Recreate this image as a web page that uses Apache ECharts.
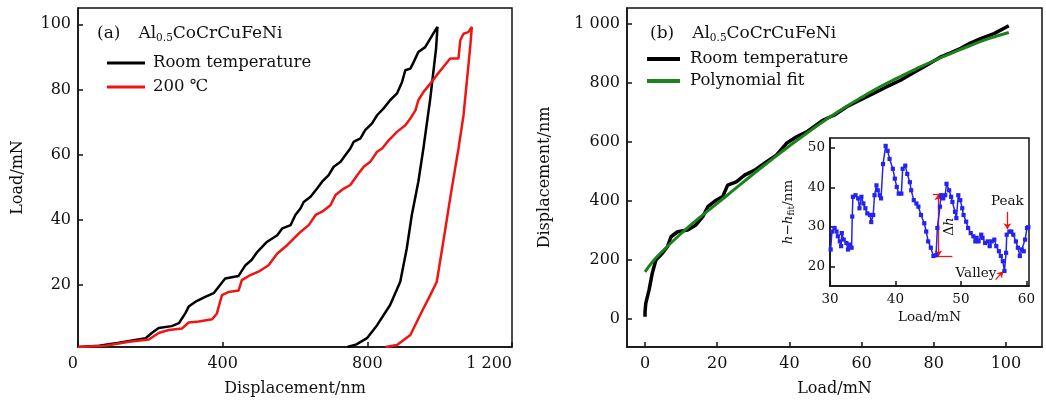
<!DOCTYPE html>
<html><head><meta charset="utf-8">
<script src="https://cdn.jsdelivr.net/npm/echarts@6/dist/echarts.min.js"></script>
<style>html,body{margin:0;padding:0;background:#fff}#c{width:1046px;height:402px}</style>
</head><body><div id="c"></div><script>
// ---- Panel (a): load–displacement curves (loading then unloading) ----
const rtDispA = [0, 58, 113, 187, 204, 223, 259, 279, 297, 306, 325, 352, 375, 389, 407, 444, 463, 480, 496, 523,
  551, 565, 588, 601, 615, 624, 643, 661, 675, 693, 707, 726, 739, 753, 762, 781, 794, 813, 827, 845,
  863, 882, 896, 905, 919, 928, 941, 960, 974, 988, 994,
  990, 974, 955, 941, 923, 909, 891, 863, 827, 799, 770, 745];
const rtLoadA = [1, 1.4, 2.3, 3.7, 5.3, 6.8, 7.4, 8.3, 11.4, 13.4, 14.9, 16.4, 17.5, 19.5, 22, 22.8, 26.1, 27.7, 30.2, 33.3,
  35.3, 37.4, 38.4, 41.5, 43.5, 45.5, 47.1, 49.6, 51.7, 53.7, 56.3, 57.8, 59.8, 61.9, 63.9, 65, 67.5, 69.6, 72.1, 74.2,
  76.7, 78.8, 82.3, 85.9, 86.4, 88.4, 91.5, 93, 95.6, 98.2, 99.2,
  92.5, 77.2, 61.9, 51.7, 41.5, 31.2, 21, 13.9, 7.7, 3.7, 1.8, 1];
const hotDispA = [0, 76, 141, 196, 223, 251, 288, 306, 334, 371, 384, 398, 417, 444, 453, 472, 499, 527, 551, 579,
  597, 615, 638, 657, 675, 698, 712, 735, 753, 772, 790, 808, 827, 841, 859, 882, 905, 919, 933, 941,
  955, 974, 992, 1010, 1029, 1052, 1057, 1066, 1079, 1089,
  1084, 1066, 1052, 1029, 1010, 992, 974, 946, 919, 882, 850];
const hotLoadA = [1, 1.4, 2.6, 3.3, 5.3, 6.2, 6.7, 8.5, 8.8, 9.5, 11.3, 16.9, 17.9, 18.3, 21.5, 22.8, 24.1, 26.1, 29.7, 32.3,
  34.3, 36.3, 38.4, 41.5, 42.5, 44.5, 47.6, 49.6, 50.7, 53.7, 56.3, 57.8, 60.9, 61.9, 64.4, 67, 69, 71.1, 73.6, 76.7,
  79.2, 81.8, 84.4, 86.9, 89.5, 89.5, 95.1, 97.1, 97.6, 99.2,
  92.5, 72.1, 61.9, 46.6, 33.3, 21, 16.9, 10.8, 4.7, 1.6, 1];
const ticksA_y = [20, 40, 60, 80, 100];

// ---- Panel (b): displacement vs load with polynomial fit ----
const loadB = [0, 0, 0.2, 1.1, 2.0, 3.0, 4.8, 6.2, 7.2, 9.0, 11.8, 14.1, 16.0, 17.4, 19.7, 21.5, 22.9, 25.3, 27.6, 30.4, 33.6, 36.4, 39.2, 42.0, 44.8, 49.4, 52.5, 55.9, 59.5, 63.3, 67.0, 70.8, 74.0, 77.2, 81.9, 84.5, 87.5, 90.0, 93.0, 96.7, 100.8];
const dispB = [8, 25, 53, 98, 155, 200, 223, 245, 279, 296, 302, 319, 347, 381, 403, 415, 454, 465, 488, 505, 533, 556, 596, 618, 635, 675, 692, 720, 742, 765, 788, 810, 833, 855, 889, 902, 918, 935, 951, 968, 995];
const fitLoad = [0, 2.5, 5, 10, 15, 20, 25, 30, 35, 40, 45, 50, 55, 60, 65, 70, 75, 80, 85, 90, 95, 100.8];
const fitDisp = [160, 200, 232, 290, 343, 392, 442, 492, 540, 587, 632, 675, 715, 752, 787, 818, 848, 876, 902, 927, 950, 972];
const ticksB_x = [0, 20, 40, 60, 80, 100];
const ticksB_y = [0, 200, 400, 600, 800, 1000];

// ---- Inset: h - h_fit ----
const insetLoad = [30.1, 30.3, 30.7, 31.0, 31.2, 31.5, 31.7, 31.8, 32.1, 32.5, 32.75, 33.0, 33.3, 33.4, 33.5, 33.9, 34.3, 34.5, 34.8, 35.1,
  35.4, 35.7, 36.1, 36.3, 36.6, 36.8, 37.1, 37.3, 37.6, 37.8, 38.1, 38.5, 38.8, 39.1, 39.6, 39.9, 40.2, 40.5, 40.9, 41.1,
  41.5, 41.8, 42.2, 42.4, 42.8, 43.2, 43.5, 43.9, 44.4, 44.7, 45.0, 45.4, 45.8, 46.2, 46.4, 46.8, 46.95, 47.3, 47.6, 47.8,
  48.2, 48.5, 48.7, 49.1, 49.3, 49.6, 49.9, 50.2, 50.4, 50.8, 51.1, 51.5, 51.9, 52.2, 52.4, 52.7, 53.1, 53.3, 53.7, 54.1,
  54.4, 54.7, 55.1, 55.4, 55.8, 56.1, 56.4, 56.65, 56.9, 57.0, 57.4, 57.7, 58.0, 58.4, 58.7, 59.0, 59.3, 59.6, 59.8, 60.1, 60.3];
const insetDiff = [24.25, 28.8, 29.7, 28.8, 27.6, 26.3, 25.1, 28.4, 26.75, 25.9, 24.25, 25.5, 24.7, 32.6, 37.6, 38, 37.2, 34.7, 37.6, 35.9,
  34.7, 33.4, 33, 31.2, 33, 38, 40.5, 39.25, 38, 37.2, 45.9, 50.5, 49.25, 47.2, 44.7, 42.2, 40.1, 38.4, 38.4, 44.7,
  45.5, 43.4, 41.3, 39.25, 36.75, 35.9, 35.1, 33, 30.9, 28.8, 26.3, 24.7, 22.6, 22.8, 29.7, 35.1, 38, 37.2, 38, 40.9,
  39.25, 37.6, 36.3, 33.8, 32.2, 38, 36.75, 34.7, 33, 31.3, 29.7, 28.4, 27.6, 26.3, 27.2, 26.3, 28, 27.2, 25.9, 26.3,
  25.1, 26.3, 26.75, 25.1, 23.8, 22.6, 21.3, 18.8, 23.4, 28, 28.8, 28.8, 28, 26.3, 24.7, 22.6, 24.25, 23.8, 26.75, 29.7, 29.9];
const ticksInset_y = [20, 30, 40, 50];

const zip = (a, b) => a.map((v, i) => [v, b[i]]);
const FONT = 'DejaVu Serif';
const INK = '#111';
const thousands = v => String(v).replace(/\B(?=(\d{3})+(?!\d))/g, ' ');

function ax(extra, fs) {
  fs = fs || 16;
  const base = {
    type: 'value',
    axisLine: { show: true, onZero: false, lineStyle: { color: INK, width: 1.5 } },
    axisTick: { show: true, inside: true, length: 5, lineStyle: { color: INK, width: 1.5 } },
    splitLine: { show: false },
    axisLabel: { color: INK, fontFamily: FONT, fontSize: fs },
    nameLocation: 'middle',
    nameTextStyle: { color: INK, fontFamily: FONT, fontSize: fs }
  };
  const out = Object.assign({}, base, extra);
  out.axisTick = Object.assign({}, base.axisTick, extra.axisTick || {});
  out.axisLabel = Object.assign({}, base.axisLabel, extra.axisLabel || {});
  out.nameTextStyle = Object.assign({}, base.nameTextStyle, extra.nameTextStyle || {});
  return out;
}

const chart = echarts.init(document.getElementById('c'), null, { renderer: 'canvas' });
const gridStyle = { show: true, borderColor: INK, borderWidth: 1.5, backgroundColor: 'transparent' };
const titleRich = {
  p: { fontFamily: FONT, fontSize: 17, color: INK, padding: [0, 18, 0, 0] },
  s: { fontFamily: FONT, fontSize: 10.5, color: INK, verticalAlign: 'bottom', padding: [9, 0, 0, 0] }
};

chart.setOption({
  animation: false,
  backgroundColor: '#fff',
  title: [
    { text: '{p|(a)}Al{s|0.5}CoCrCuFeNi', left: 92, top: 19, textStyle: { fontFamily: FONT, fontSize: 17, fontWeight: 'normal', color: INK, rich: titleRich } },
    { text: '{p|(b)}Al{s|0.5}CoCrCuFeNi', left: 645, top: 19, textStyle: { fontFamily: FONT, fontSize: 17, fontWeight: 'normal', color: INK, rich: titleRich } }
  ],
  legend: [
    { data: ['Room temperature', '200 ℃'], left: 107, top: 54, orient: 'vertical', icon: 'rect', itemWidth: 38, itemHeight: 3,
      itemGap: 6, padding: 0, selectedMode: false, textStyle: { fontFamily: FONT, fontSize: 16.5, color: INK, lineHeight: 18, padding: [0, 0, 0, 3] } },
    { data: ['Room temperature', 'Polynomial fit'], left: 647, top: 50, orient: 'vertical', icon: 'rect', itemWidth: 33, itemHeight: 4,
      itemGap: 4, padding: 0, selectedMode: false, textStyle: { fontFamily: FONT, fontSize: 16.5, color: INK, lineHeight: 18, padding: [0, 0, 0, 5] } }
  ],
  grid: [
    Object.assign({ left: 78, top: 8, width: 434, height: 339 }, gridStyle),
    Object.assign({ left: 627, top: 8, width: 415, height: 339 }, gridStyle),
    Object.assign({ left: 830, top: 138, width: 199, height: 148, z: 5 }, gridStyle, { backgroundColor: '#fff' })
  ],
  xAxis: [
    ax({ gridIndex: 0, min: 0, max: 1200, interval: 400, name: 'Displacement/nm', nameGap: 34,
         axisLabel: { formatter: thousands, alignMinLabel: 'right', alignMaxLabel: 'right', margin: 9 } }),
    ax({ gridIndex: 1, min: -5, max: 110, name: 'Load/mN', nameGap: 34,
         axisTick: { customValues: ticksB_x }, axisLabel: { customValues: ticksB_x, margin: 9 } }),
    ax({ gridIndex: 2, min: 30, max: 60.4, interval: 10, name: 'Load/mN', nameGap: 24, z: 6,
         axisLabel: { margin: 6, alignMaxLabel: 'right' } }, 13.5)
  ],
  yAxis: [
    ax({ gridIndex: 0, min: 1, max: 105, name: 'Load/mN', nameGap: 52, nameRotate: 90,
         axisTick: { customValues: ticksA_y }, axisLabel: { customValues: ticksA_y, margin: 7 } }),
    ax({ gridIndex: 1, min: -95, max: 1055, name: 'Displacement/nm', nameGap: 74, nameRotate: 90,
         axisTick: { customValues: ticksB_y }, axisLabel: { customValues: ticksB_y, formatter: thousands, margin: 7 } }),
    ax({ gridIndex: 2, min: 15, max: 52.5, name: '{i|h}−{i|h}{s|fit}/nm', nameGap: 34, nameRotate: 90, z: 6,
         axisTick: { customValues: ticksInset_y }, axisLabel: { customValues: ticksInset_y, margin: 5 },
         nameTextStyle: { rich: {
           i: { fontFamily: FONT, fontSize: 13.5, fontStyle: 'italic', color: INK },
           s: { fontFamily: FONT, fontSize: 9, color: INK, verticalAlign: 'bottom', padding: [7, 0, 0, 0] } } } }, 13.5)
  ],
  series: [
    { name: 'Room temperature', type: 'line', xAxisIndex: 0, yAxisIndex: 0, data: zip(rtDispA, rtLoadA),
      showSymbol: false, lineStyle: { color: '#000', width: 2.5 }, itemStyle: { color: '#000' } },
    { name: '200 ℃', type: 'line', xAxisIndex: 0, yAxisIndex: 0, data: zip(hotDispA, hotLoadA),
      showSymbol: false, lineStyle: { color: '#f01414', width: 2.5 }, itemStyle: { color: '#f01414' } },
    { name: 'Room temperature', type: 'line', xAxisIndex: 1, yAxisIndex: 1, data: zip(loadB, dispB),
      showSymbol: false, lineStyle: { color: '#000', width: 3.5 }, itemStyle: { color: '#000' } },
    { name: 'Polynomial fit', type: 'line', xAxisIndex: 1, yAxisIndex: 1, data: zip(fitLoad, fitDisp), smooth: true,
      showSymbol: false, lineStyle: { color: '#1c821c', width: 3 }, itemStyle: { color: '#1c821c' } },
    { name: 'inset', type: 'line', xAxisIndex: 2, yAxisIndex: 2, data: zip(insetLoad, insetDiff), z: 8,
      symbol: 'rect', symbolSize: 4.2, showSymbol: true, lineStyle: { color: '#2424ee', width: 1.5 }, itemStyle: { color: '#2424ee' },
      markLine: {
        silent: true, symbolSize: 6, label: { show: false },
        lineStyle: { color: '#f01414', width: 1.3, type: 'solid' },
        data: [
          [{ coord: [46.55, 22.5], symbol: 'arrow' }, { coord: [46.55, 38.25], symbol: 'arrow' }],
          [{ coord: [45.7, 38.25], symbol: 'none' }, { coord: [47.55, 38.25], symbol: 'none' }],
          [{ coord: [45.7, 22.5], symbol: 'none' }, { coord: [48.7, 22.5], symbol: 'none' }],
          [{ coord: [57.1, 33.8], symbol: 'none' }, { coord: [57.1, 29.4], symbol: 'arrow' }],
          [{ coord: [55.3, 16.6], symbol: 'none' }, { coord: [56.45, 18.7], symbol: 'arrow' }]
        ]
      },
      markPoint: {
        silent: true, symbol: 'circle', symbolSize: 0,
        label: { show: true, position: 'inside', color: INK, fontFamily: FONT, fontSize: 13.5 },
        data: [
          { coord: [48.2, 30.1], label: { formatter: 'Δ{i|h}', rotate: 90, rich: { i: { fontFamily: FONT, fontSize: 13.5, fontStyle: 'italic', color: INK } } } },
          { coord: [57.1, 36.3], label: { formatter: 'Peak' } },
          { coord: [52.3, 18.25], label: { formatter: 'Valley' } }
        ]
      }
    }
  ]
});
</script></body></html>
